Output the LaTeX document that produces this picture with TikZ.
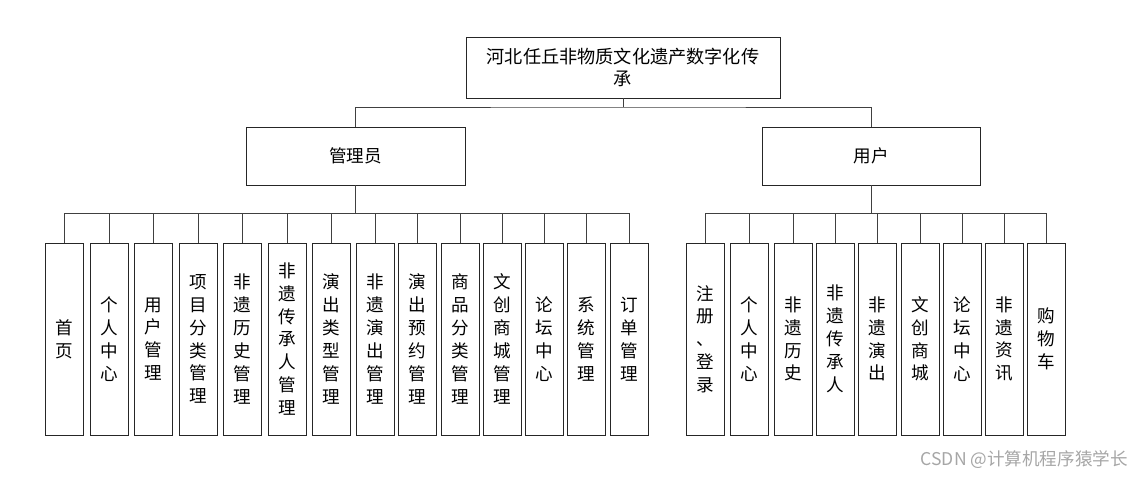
\documentclass[tikz,border=0pt]{standalone}
\usepackage{fontspec}
\newfontfamily\cjk{Noto Sans CJK SC}
\begin{document}
\begin{tikzpicture}[x=0.03cm,y=-0.03cm,
  box/.style={draw=black!85,line width=0.6pt,inner sep=0pt,font=\cjk\fontsize{15}{19.5}\selectfont,align=center},
  conn/.style={draw=black!75,line width=0.5pt}]
\useasboundingbox (0,0) rectangle (1135,478);
\node[box,minimum width=314*0.03cm,minimum height=61*0.03cm,font=\cjk\fontsize{15.5}{19}\selectfont] (root) at (623,67.5) {河北任丘非物质文化遗产数字化传\\承};
\node[box,minimum width=219*0.03cm,minimum height=58*0.03cm] (admin) at (355.5,156) {管理员};
\node[box,minimum width=218*0.03cm,minimum height=58*0.03cm] (user) at (871,156) {用户};
\coordinate (rb) at (623,107);
\draw[conn] (root.south) -- (rb);
\draw[conn] (admin.north) |- (rb) -| (user.north);
\foreach \n/\x/\t in {a1/64/首\\页, a2/109/个\\人\\中\\心, a3/153/用\\户\\管\\理, a4/198/项\\目\\分\\类\\管\\理, a5/242/非\\遗\\历\\史\\管\\理, a6/287/非\\遗\\传\\承\\人\\管\\理, a7/331/演\\出\\类\\型\\管\\理, a8/375/非\\遗\\演\\出\\管\\理, a9/417/演\\出\\预\\约\\管\\理, a10/460/商\\品\\分\\类\\管\\理, a11/502/文\\创\\商\\城\\管\\理, a12/544/论\\坛\\中\\心, a13/586/系\\统\\管\\理, a14/629/订\\单\\管\\理}{
  \node[box,minimum width=38*0.03cm,minimum height=192*0.03cm] (\n) at (\x,339) {\t};
  \draw[conn] (admin.south) -- (355.5,213) -| (\n.north);
}
\foreach \n/\x/\t in {u1/705/注\\册\\、\\登\\录, u2/749/个\\人\\中\\心, u3/793/非\\遗\\历\\史, u4/835/非\\遗\\传\\承\\人, u5/877/非\\遗\\演\\出, u6/920/文\\创\\商\\城, u7/962/论\\坛\\中\\心, u8/1004/非\\遗\\资\\讯, u9/1046/购\\物\\车}{
  \node[box,minimum width=38*0.03cm,minimum height=192*0.03cm] (\n) at (\x,339) {\t};
  \draw[conn] (user.south) -- (871,213) -| (\n.north);
}
\node[font=\cjk\fontsize{15}{17}\selectfont,text=black!35,anchor=east] (wm) at (1132,460) {CSDN @计算机程序猿学长};
\end{tikzpicture}
\end{document}
